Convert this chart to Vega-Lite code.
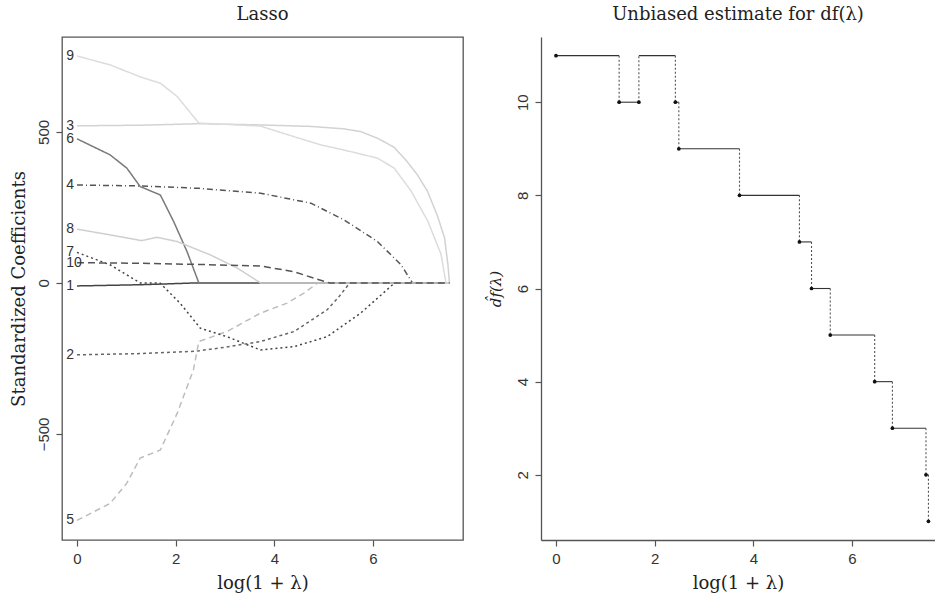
{
  "$schema": "https://vega.github.io/schema/vega-lite/v6.json",
  "padding": {"left": 9, "top": 5, "right": 0, "bottom": 0},
  "bounds": "flush",
  "spacing": 78,
  "background": "white",
  "config": {
    "view": {"stroke": null},
    "axis": {"grid": false, "domain": false, "domainColor": "#555", "domainWidth": 1.3, "tickColor": "#555", "tickSize": 6, "tickWidth": 1.2, "labelFont": "Liberation Sans", "labelFontSize": 15, "labelColor": "#333", "labelPadding": 5, "titleFont": "DejaVu Serif", "titleFontSize": 18, "titleFontWeight": "normal", "titleColor": "#222"},
    "title": {"font": "DejaVu Serif", "fontSize": 18, "fontWeight": "normal", "color": "#222", "offset": 13}
  },
  "datasets": {
    "paths": [
      {"var": "1", "x": 0, "y": -10}, {"var": "1", "x": 1.28, "y": -6}, {"var": "1", "x": 1.68, "y": -4}, {"var": "1", "x": 2.41, "y": 0}, {"var": "1", "x": 7.55, "y": 0},
      {"var": "2", "x": 0, "y": -238}, {"var": "2", "x": 1.28, "y": -234}, {"var": "2", "x": 2.41, "y": -226}, {"var": "2", "x": 3.0, "y": -213}, {"var": "2", "x": 3.72, "y": -194}, {"var": "2", "x": 4.4, "y": -161}, {"var": "2", "x": 5.07, "y": -89}, {"var": "2", "x": 5.3, "y": -48}, {"var": "2", "x": 5.53, "y": 0}, {"var": "2", "x": 7.55, "y": 0},
      {"var": "3", "x": 0, "y": 520}, {"var": "3", "x": 1.28, "y": 522}, {"var": "3", "x": 2.48, "y": 527}, {"var": "3", "x": 3.72, "y": 523}, {"var": "3", "x": 4.74, "y": 518}, {"var": "3", "x": 5.41, "y": 510}, {"var": "3", "x": 5.75, "y": 501}, {"var": "3", "x": 6.09, "y": 479}, {"var": "3", "x": 6.43, "y": 449}, {"var": "3", "x": 6.7, "y": 400}, {"var": "3", "x": 6.9, "y": 358}, {"var": "3", "x": 7.1, "y": 305}, {"var": "3", "x": 7.3, "y": 225}, {"var": "3", "x": 7.45, "y": 150}, {"var": "3", "x": 7.52, "y": 60}, {"var": "3", "x": 7.55, "y": 0},
      {"var": "4", "x": 0, "y": 324}, {"var": "4", "x": 1.28, "y": 321}, {"var": "4", "x": 2.48, "y": 313}, {"var": "4", "x": 3.72, "y": 297}, {"var": "4", "x": 4.74, "y": 264}, {"var": "4", "x": 5.41, "y": 209}, {"var": "4", "x": 6.09, "y": 137}, {"var": "4", "x": 6.57, "y": 60}, {"var": "4", "x": 6.8, "y": 0}, {"var": "4", "x": 7.55, "y": 0},
      {"var": "5", "x": 0, "y": -786}, {"var": "5", "x": 0.67, "y": -730}, {"var": "5", "x": 1.01, "y": -663}, {"var": "5", "x": 1.28, "y": -580}, {"var": "5", "x": 1.69, "y": -553}, {"var": "5", "x": 2.03, "y": -432}, {"var": "5", "x": 2.36, "y": -288}, {"var": "5", "x": 2.47, "y": -194}, {"var": "5", "x": 3.04, "y": -161}, {"var": "5", "x": 3.72, "y": -100}, {"var": "5", "x": 4.26, "y": -67}, {"var": "5", "x": 4.6, "y": -34}, {"var": "5", "x": 4.88, "y": 0}, {"var": "5", "x": 7.55, "y": 0},
      {"var": "6", "x": 0, "y": 477}, {"var": "6", "x": 0.67, "y": 424}, {"var": "6", "x": 1.01, "y": 380}, {"var": "6", "x": 1.28, "y": 319}, {"var": "6", "x": 1.69, "y": 291}, {"var": "6", "x": 1.96, "y": 203}, {"var": "6", "x": 2.23, "y": 104}, {"var": "6", "x": 2.47, "y": 0}, {"var": "6", "x": 7.55, "y": 0},
      {"var": "7", "x": 0, "y": 101}, {"var": "7", "x": 0.67, "y": 60}, {"var": "7", "x": 1.28, "y": 0}, {"var": "7", "x": 1.68, "y": 0}, {"var": "7", "x": 2.09, "y": -67}, {"var": "7", "x": 2.5, "y": -150}, {"var": "7", "x": 3.04, "y": -178}, {"var": "7", "x": 3.72, "y": -222}, {"var": "7", "x": 4.4, "y": -211}, {"var": "7", "x": 5.07, "y": -178}, {"var": "7", "x": 5.75, "y": -100}, {"var": "7", "x": 6.44, "y": 0}, {"var": "7", "x": 7.55, "y": 0},
      {"var": "8", "x": 0, "y": 178}, {"var": "8", "x": 0.67, "y": 159}, {"var": "8", "x": 1.31, "y": 140}, {"var": "8", "x": 1.62, "y": 151}, {"var": "8", "x": 2.03, "y": 137}, {"var": "8", "x": 2.7, "y": 93}, {"var": "8", "x": 3.25, "y": 49}, {"var": "8", "x": 3.72, "y": 0}, {"var": "8", "x": 7.55, "y": 0},
      {"var": "9", "x": 0, "y": 751}, {"var": "9", "x": 0.67, "y": 722}, {"var": "9", "x": 1.28, "y": 682}, {"var": "9", "x": 1.69, "y": 661}, {"var": "9", "x": 2.03, "y": 617}, {"var": "9", "x": 2.47, "y": 529}, {"var": "9", "x": 3.0, "y": 525}, {"var": "9", "x": 3.72, "y": 519}, {"var": "9", "x": 4.4, "y": 484}, {"var": "9", "x": 4.94, "y": 457}, {"var": "9", "x": 5.41, "y": 440}, {"var": "9", "x": 6.09, "y": 413}, {"var": "9", "x": 6.43, "y": 380}, {"var": "9", "x": 6.77, "y": 305}, {"var": "9", "x": 7.11, "y": 205}, {"var": "9", "x": 7.38, "y": 95}, {"var": "9", "x": 7.48, "y": 0}, {"var": "9", "x": 7.55, "y": 0},
      {"var": "10", "x": 0, "y": 67}, {"var": "10", "x": 1.28, "y": 65}, {"var": "10", "x": 2.48, "y": 61}, {"var": "10", "x": 3.72, "y": 56}, {"var": "10", "x": 4.4, "y": 37}, {"var": "10", "x": 4.87, "y": 12}, {"var": "10", "x": 5.12, "y": 0}, {"var": "10", "x": 7.55, "y": 0}
    ],
    "hseg": [
      {"x": 0, "x2": 1.28, "y": 11}, {"x": 1.28, "x2": 1.68, "y": 10}, {"x": 1.68, "x2": 2.42, "y": 11}, {"x": 2.42, "x2": 2.49, "y": 10},
      {"x": 2.49, "x2": 3.72, "y": 9}, {"x": 3.72, "x2": 4.935, "y": 8}, {"x": 4.935, "x2": 5.18, "y": 7}, {"x": 5.18, "x2": 5.56, "y": 6},
      {"x": 5.56, "x2": 6.46, "y": 5}, {"x": 6.46, "x2": 6.82, "y": 4}, {"x": 6.82, "x2": 7.5, "y": 3}, {"x": 7.5, "x2": 7.55, "y": 2}
    ],
    "vseg": [
      {"x": 1.28, "y": 11, "y2": 10}, {"x": 1.68, "y": 10, "y2": 11}, {"x": 2.42, "y": 11, "y2": 10}, {"x": 2.49, "y": 10, "y2": 9},
      {"x": 3.72, "y": 9, "y2": 8}, {"x": 4.935, "y": 8, "y2": 7}, {"x": 5.18, "y": 7, "y2": 6}, {"x": 5.56, "y": 6, "y2": 5},
      {"x": 6.46, "y": 5, "y2": 4}, {"x": 6.82, "y": 4, "y2": 3}, {"x": 7.5, "y": 3, "y2": 2}, {"x": 7.55, "y": 2, "y2": 1}
    ],
    "pts": [
      {"x": 0, "y": 11}, {"x": 1.28, "y": 10}, {"x": 1.68, "y": 10}, {"x": 2.42, "y": 10}, {"x": 2.49, "y": 9},
      {"x": 3.72, "y": 8}, {"x": 4.935, "y": 7}, {"x": 5.18, "y": 6}, {"x": 5.56, "y": 5}, {"x": 6.46, "y": 4},
      {"x": 6.82, "y": 3}, {"x": 7.5, "y": 2}, {"x": 7.55, "y": 1}
    ]
  },
  "hconcat": [
    {
      "width": 401,
      "height": 503,
      "view": {"stroke": "#555", "strokeWidth": 1.3},
      "title": {"text": "Lasso"},
      "layer": [
        {
          "mark": {"type": "rule", "stroke": "#888", "strokeDash": [1, 2], "strokeWidth": 1},
          "encoding": {"y": {"datum": 0, "type": "quantitative"}}
        },
        {
          "data": {"name": "paths"},
          "mark": {"type": "line", "strokeWidth": 1.5},
          "encoding": {
            "x": {"field": "x", "type": "quantitative", "scale": {"domain": [-0.304, 7.825], "nice": false, "zero": false}, "axis": {"values": [0, 2, 4, 6], "title": "log(1 + λ)", "titlePadding": 8}},
            "y": {"field": "y", "type": "quantitative", "scale": {"domain": [-851, 814], "nice": false, "zero": false}, "axis": {"values": [-500, 0, 500], "title": "Standardized Coefficients", "labelAngle": -90, "labelAlign": "center", "labelBaseline": "bottom", "titlePadding": 8}},
            "color": {"field": "var", "type": "nominal", "scale": {"domain": ["1", "2", "3", "4", "5", "6", "7", "8", "9", "10"], "range": ["#444444", "#666666", "#d2d2d2", "#555555", "#bdbdbd", "#7a7a7a", "#444444", "#cfcfcf", "#dcdcdc", "#555555"]}, "legend": null},
            "strokeDash": {"field": "var", "type": "nominal", "scale": {"domain": ["1", "2", "3", "4", "5", "6", "7", "8", "9", "10"], "range": [[1, 0], [3, 3], [1, 0], [6, 3, 1, 3], [6, 4], [1, 0], [2, 3], [1, 0], [1, 0], [7, 4]]}, "legend": null}
          }
        },
        {
          "data": {"name": "paths"},
          "transform": [{"filter": "datum.x == 0"}],
          "mark": {"type": "text", "align": "left", "baseline": "middle", "font": "Liberation Sans", "fontSize": 14, "color": "#333"},
          "encoding": {
            "x": {"datum": -0.22, "type": "quantitative"},
            "y": {"field": "y", "type": "quantitative"},
            "text": {"field": "var", "type": "nominal"}
          }
        }
      ]
    },
    {
      "width": 394,
      "height": 503,
      "title": {"text": "Unbiased estimate for df(λ)"},
      "layer": [
        {
          "mark": {"type": "rule", "stroke": "#555", "strokeWidth": 1.3},
          "encoding": {"y": {"datum": 11.4, "type": "quantitative"}}
        },
        {
          "data": {"name": "hseg"},
          "mark": {"type": "rule", "stroke": "#333", "strokeWidth": 1.1},
          "encoding": {
            "x": {"field": "x", "type": "quantitative", "scale": {"domain": [-0.304, 7.683], "nice": false, "zero": false}, "axis": {"values": [0, 2, 4, 6], "title": "log(1 + λ)", "titlePadding": 8, "domain": true}},
            "x2": {"field": "x2"},
            "y": {"field": "y", "type": "quantitative", "scale": {"domain": [0.6, 11.4], "nice": false, "zero": false}, "axis": {"values": [2, 4, 6, 8, 10], "title": "d̂f(λ)", "titleFontStyle": "italic", "titleFontSize": 15, "labelAngle": -90, "labelAlign": "center", "labelBaseline": "bottom", "titlePadding": 12, "domain": true}}
          }
        },
        {
          "data": {"name": "vseg"},
          "mark": {"type": "rule", "stroke": "#555", "strokeWidth": 1.1, "strokeDash": [2, 2]},
          "encoding": {
            "x": {"field": "x", "type": "quantitative"},
            "y": {"field": "y", "type": "quantitative"},
            "y2": {"field": "y2"}
          }
        },
        {
          "data": {"name": "pts"},
          "mark": {"type": "point", "filled": true, "size": 14, "color": "#111", "opacity": 1},
          "encoding": {
            "x": {"field": "x", "type": "quantitative"},
            "y": {"field": "y", "type": "quantitative"}
          }
        }
      ]
    }
  ]
}
